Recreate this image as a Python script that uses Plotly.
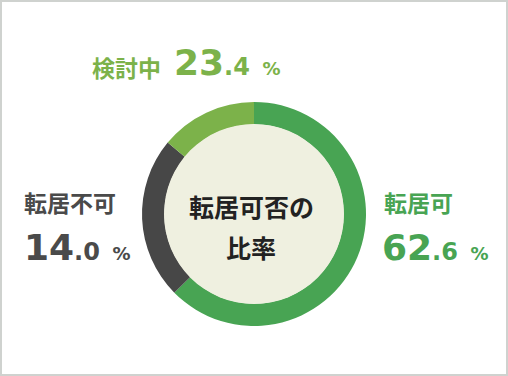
import plotly.graph_objects as go

categories = ["転居可", "検討中", "転居不可"]
values = [62.6, 23.4, 14.0]
slice_colors = ["#48a453", "#474747", "#7cb24a"]
label_colors = ["#48a453", "#7cb24a", "#4a4a4a"]
center_title = ["転居可否の", "比率"]

W, H = 508, 376

def px(x):
    return x / W

def py(y):
    return (H - y) / H

fig = go.Figure()
fig.add_trace(go.Pie(
    labels=categories,
    values=values,
    marker=dict(colors=slice_colors, line=dict(width=0)),
    hole=0.8,
    sort=False,
    direction="clockwise",
    rotation=0,
    textinfo="none",
    hoverinfo="label+percent",
    showlegend=False,
    domain=dict(x=[px(142), px(366)], y=[py(326), py(102)]),
))

CJK = "Noto Sans CJK JP"
NUM = "DejaVu Sans"

def num_text(v):
    a, b = f"{v:.1f}".split(".")
    return (f"<b><span style='font-size:36px'>{a}</span>"
            f"<span style='font-size:24px'>.{b}</span>"
            f"<span style='font-size:18px'>&nbsp;&nbsp;%</span></b>")

shapes = [
    dict(type="circle", xref="paper", yref="paper",
         x0=px(164), x1=px(344), y0=py(304), y1=py(124),
         fillcolor="#eff0e0", line=dict(width=0), layer="above"),
    dict(type="rect", xref="paper", yref="paper",
         x0=px(1), x1=px(507), y0=py(375), y1=py(1),
         line=dict(color="#cfd2cf", width=2), fillcolor="rgba(0,0,0,0)"),
]

ann = []
pos = {
    "転居可": (382, 202, 380, 248),
    "検討中": (90, 67, 172, 63),
    "転居不可": (22, 202, 22, 248),
}
for cat, v, col in zip(categories, values, label_colors):
    nx, ny, vx, vy = pos[cat]
    ann.append(dict(x=px(nx), y=py(ny), xref="paper", yref="paper",
                    text=f"<b>{cat}</b>", showarrow=False, xanchor="left", yanchor="middle",
                    font=dict(family=CJK, size=23, color=col)))
    ann.append(dict(x=px(vx), y=py(vy), xref="paper", yref="paper",
                    text=num_text(v), showarrow=False, xanchor="left", yanchor="middle",
                    font=dict(family=NUM, size=18, color=col)))

for t, yy in zip(center_title, [206, 247]):
    ann.append(dict(x=px(251), y=py(yy), xref="paper", yref="paper",
                    text=f"<b>{t}</b>", showarrow=False, xanchor="center", yanchor="middle",
                    font=dict(family=CJK, size=25, color="#222222")))

fig.update_layout(
    width=W, height=H,
    margin=dict(l=0, r=0, t=0, b=0),
    paper_bgcolor="#ffffff",
    plot_bgcolor="#ffffff",
    shapes=shapes,
    annotations=ann,
)

fig.write_html("out.html", config={"displayModeBar": False},
               post_script="document.body.style.margin='0';document.body.style.padding='0';")
